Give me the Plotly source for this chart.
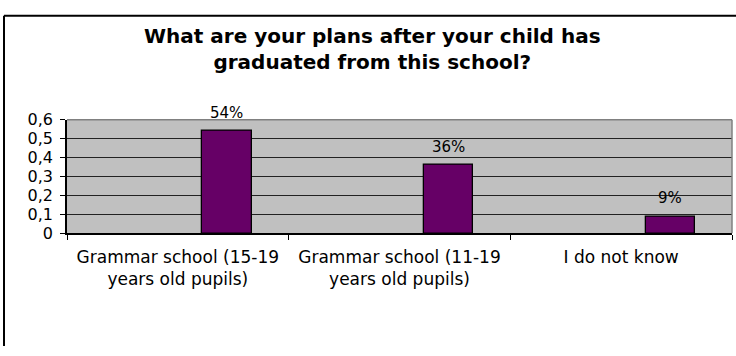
import plotly.graph_objects as go

# Survey answers and shares
categories = [
    "Grammar school (15-19<br>years old pupils)",
    "Grammar school (11-19<br>years old pupils)",
    "I do not know",
]
shares = [0.54, 0.36, 0.09]
y_ticks = [0, 0.1, 0.2, 0.3, 0.4, 0.5, 0.6]

W, H = 736, 356
FONT = "DejaVu Sans, Verdana, sans-serif"

# bar sits in the right-hand part of each category slot
BAR_OFFSET = 0.11
BAR_WIDTH = 0.223

# plot-area edges in pixels
PX_LEFT, PX_RIGHT, PX_TOP, PX_BOTTOM = 67, 732, 117, 237

fig = go.Figure()
fig.add_trace(go.Bar(
    x=categories,
    y=shares,
    width=BAR_WIDTH,
    offset=BAR_OFFSET,
    marker=dict(color="#660066", line=dict(color="#000000", width=1.3)),
    hoverinfo="skip",
    showlegend=False,
))

annotations = []
for i, v in enumerate(shares):
    annotations.append(dict(
        x=i + BAR_OFFSET + BAR_WIDTH / 2, y=v, xref="x", yref="y",
        text=f"{round(v * 100)}%", showarrow=False,
        yanchor="bottom", yshift=7,
        font=dict(family=FONT, size=15, color="#000000"),
    ))

# chart title
annotations.append(dict(
    x=372 / W, y=1 - 42 / H, xref="paper", yref="paper",
    text="<b>What are your plans after your child has<br>graduated from this school?</b>",
    showarrow=False, xanchor="center", yanchor="middle",
    font=dict(family=FONT, size=20, color="#000000"),
))

shapes = [
    # chart frame: left and top edges
    dict(type="line", xref="paper", yref="paper",
         x0=4 / W, x1=4 / W, y0=0, y1=1 - 7 / H,
         line=dict(color="#000000", width=2), layer="above"),
    dict(type="line", xref="paper", yref="paper",
         x0=4 / W, x1=1, y0=1 - 7 / H, y1=1 - 7 / H,
         line=dict(color="#000000", width=2), layer="above"),
    # plot-area border (top and right)
    dict(type="line", xref="paper", yref="paper",
         x0=PX_LEFT / W, x1=PX_RIGHT / W, y0=1 - PX_TOP / H, y1=1 - PX_TOP / H,
         line=dict(color="#808080", width=1.5), layer="above"),
    dict(type="line", xref="paper", yref="paper",
         x0=PX_RIGHT / W, x1=PX_RIGHT / W, y0=1 - PX_TOP / H, y1=1 - PX_BOTTOM / H,
         line=dict(color="#808080", width=1.5), layer="above"),
]

fig.update_layout(
    width=W, height=H,
    margin=dict(l=0, r=0, t=0, b=0),
    paper_bgcolor="#FFFFFF",
    plot_bgcolor="#C0C0C0",
    separators=", ",
    font=dict(family=FONT, size=16, color="#000000"),
    annotations=annotations,
    shapes=shapes,
    bargap=0,
    xaxis=dict(
        domain=[PX_LEFT / W, PX_RIGHT / W],
        type="category",
        range=[-0.5, 2.5],
        tickson="boundaries",
        ticks="outside", ticklen=5, tickcolor="#000000", tickwidth=1,
        showline=True, linecolor="#000000", linewidth=1.5,
        showgrid=False, zeroline=False,
        tickfont=dict(family=FONT, size=17, color="#000000"),
        ticklabelstandoff=7,
        fixedrange=True,
    ),
    yaxis=dict(
        domain=[1 - PX_BOTTOM / H, 1 - PX_TOP / H],
        range=[0, 0.6],
        tickvals=y_ticks,
        ticks="outside", ticklen=5, tickcolor="#000000", tickwidth=1,
        showline=True, linecolor="#000000", linewidth=1.5,
        showgrid=True, gridcolor="#222222", gridwidth=1,
        zeroline=False,
        tickfont=dict(family=FONT, size=16, color="#000000"),
        ticklabelstandoff=4,
        fixedrange=True,
    ),
)

fig.write_html("out.html", config={"displayModeBar": False})
